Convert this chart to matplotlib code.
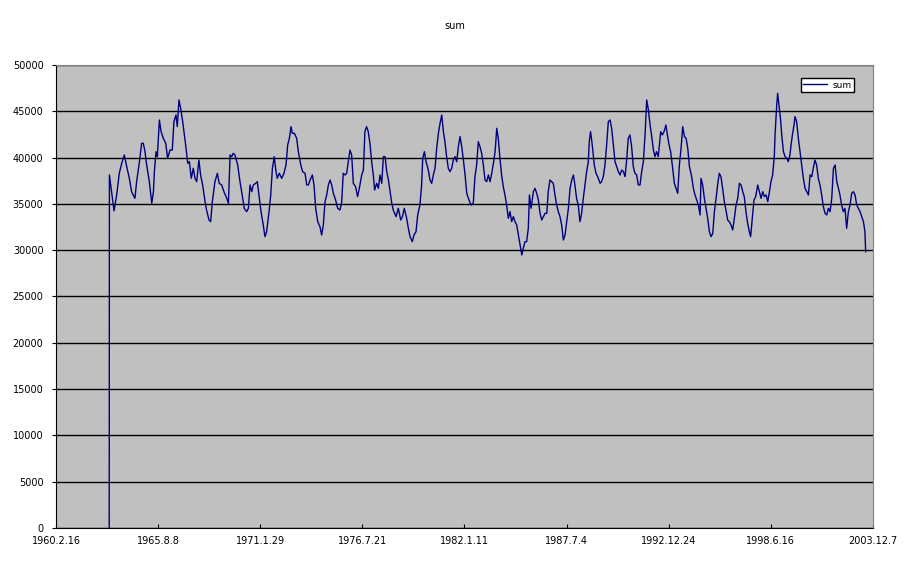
import pandas as pd
import matplotlib
matplotlib.use("Agg")
from matplotlib import pyplot as plt
from matplotlib.ticker import FixedLocator, MultipleLocator

# ---------------------------------------------------------------------------
# DATA
# ---------------------------------------------------------------------------

# decimal years of the traced points
years = [
    1962.98, 1962.99, 1963.24, 1963.38, 1963.52, 1963.65, 1963.79, 1963.92,
    1964.06, 1964.18, 1964.36, 1964.45, 1964.59, 1964.72, 1964.81, 1964.90,
    1964.99, 1965.13, 1965.26, 1965.35, 1965.40, 1965.49, 1965.56, 1965.67,
    1965.76, 1965.88, 1966.01, 1966.11, 1966.24, 1966.36, 1966.45, 1966.56,
    1966.63, 1966.72, 1966.81, 1966.92, 1967.01, 1967.10, 1967.19, 1967.28,
    1967.38, 1967.49, 1967.58, 1967.67, 1967.79, 1967.88, 1967.99, 1968.12,
    1968.20, 1968.33, 1968.42, 1968.51, 1968.65, 1968.78, 1968.88, 1969.01,
    1969.13, 1969.28, 1969.37, 1969.46, 1969.55, 1969.63,
    1969.72, 1969.87, 1969.99, 1970.08, 1970.22, 1970.35, 1970.44, 1970.53,
    1970.62, 1970.71, 1970.83, 1970.92, 1971.01, 1971.12, 1971.24, 1971.33,
    1971.42, 1971.55, 1971.64, 1971.73, 1971.83, 1971.91, 1971.99, 1972.10,
    1972.23, 1972.35, 1972.46, 1972.55, 1972.64, 1972.73, 1972.80, 1972.91,
    1973.03, 1973.12, 1973.25, 1973.35, 1973.48, 1973.57, 1973.66, 1973.75,
    1973.87, 1973.96, 1974.05, 1974.16, 1974.28, 1974.37, 1974.46, 1974.55,
    1974.64, 1974.73, 1974.82, 1974.91, 1975.00, 1975.12, 1975.23, 1975.35,
    1975.44, 1975.53, 1975.62, 1975.71, 1975.80, 1975.89, 1975.98, 1976.07,
    1976.19, 1976.30, 1976.39, 1976.52, 1976.61, 1976.69, 1976.78, 1976.87,
    1976.96, 1977.05, 1977.14, 1977.21, 1977.32, 1977.41, 1977.50, 1977.59,
    1977.68, 1977.77, 1977.86, 1977.95, 1978.04, 1978.13, 1978.21, 1978.36,
    1978.48, 1978.61, 1978.70, 1978.80, 1978.93, 1979.02, 1979.11, 1979.23,
    1979.32, 1979.43, 1979.52, 1979.64, 1979.73, 1979.79, 1979.88, 1979.97,
    1980.09, 1980.18, 1980.27, 1980.36, 1980.45, 1980.54, 1980.63, 1980.72,
    1980.81, 1980.90, 1980.98, 1981.07, 1981.16, 1981.25, 1981.34, 1981.43,
    1981.52, 1981.61, 1981.70, 1981.79, 1981.88, 1981.97, 1982.06, 1982.15,
    1982.27, 1982.38, 1982.50, 1982.59, 1982.68, 1982.77, 1982.86, 1982.95,
    1983.04, 1983.13, 1983.22, 1983.31, 1983.40, 1983.49, 1983.58, 1983.67,
    1983.76, 1983.84, 1983.93, 1984.02, 1984.11,
    1984.20, 1984.29, 1984.38, 1984.47, 1984.56, 1984.65, 1984.74, 1984.83,
    1984.92, 1985.01, 1985.10, 1985.18, 1985.27, 1985.36, 1985.45, 1985.51,
    1985.60, 1985.72, 1985.81, 1985.90, 1985.99, 1986.08, 1986.17, 1986.26,
    1986.35, 1986.44, 1986.52, 1986.61, 1986.70, 1986.79, 1986.88, 1986.97,
    1987.06, 1987.15, 1987.24, 1987.33, 1987.42, 1987.51, 1987.60, 1987.69,
    1987.78, 1987.87, 1987.95, 1988.04, 1988.13, 1988.22, 1988.31, 1988.40,
    1988.49, 1988.58, 1988.67, 1988.72, 1988.79, 1988.88, 1988.99, 1989.08,
    1989.17, 1989.30, 1989.38, 1989.47, 1989.56, 1989.65, 1989.74, 1989.83,
    1989.92, 1990.01, 1990.10, 1990.19, 1990.28, 1990.37, 1990.46, 1990.55,
    1990.64, 1990.73, 1990.81, 1990.90, 1990.99, 1991.08, 1991.17, 1991.26,
    1991.35,
    1991.44, 1991.53, 1991.62, 1991.71, 1991.80, 1991.89, 1991.98, 1992.07,
    1992.16, 1992.24, 1992.33, 1992.42, 1992.48, 1992.55, 1992.64, 1992.73,
    1992.83, 1992.91, 1993.00, 1993.08, 1993.17, 1993.28, 1993.37, 1993.46,
    1993.55, 1993.64, 1993.73, 1993.82, 1993.91, 1994.00, 1994.09, 1994.21,
    1994.30, 1994.39, 1994.48, 1994.57, 1994.66, 1994.71, 1994.80, 1994.89,
    1994.98, 1995.07, 1995.16, 1995.25, 1995.34, 1995.43, 1995.52, 1995.60,
    1995.69, 1995.78, 1995.87, 1995.96, 1996.05, 1996.14, 1996.23, 1996.32,
    1996.41, 1996.50, 1996.59, 1996.68, 1996.77, 1996.86, 1996.95, 1997.03,
    1997.12, 1997.21, 1997.30, 1997.37, 1997.46, 1997.55, 1997.64, 1997.75,
    1997.84, 1997.93, 1998.02, 1998.11, 1998.20, 1998.29, 1998.38, 1998.46,
    1998.55, 1998.64,
    1998.68, 1998.77, 1998.82, 1998.89, 1998.97, 1999.04, 1999.13, 1999.22,
    1999.31, 1999.39, 1999.48, 1999.54, 1999.61, 1999.70, 1999.75, 1999.84,
    1999.93, 2000.02, 2000.11, 2000.20, 2000.29, 2000.38, 2000.47, 2000.56,
    2000.65, 2000.73, 2000.82, 2000.91, 2001.00, 2001.09, 2001.18, 2001.27,
    2001.36, 2001.45, 2001.54, 2001.63, 2001.72, 2001.81, 2001.90, 2001.99,
    2002.08, 2002.16, 2002.25, 2002.34, 2002.43, 2002.52, 2002.61, 2002.70,
    2002.79, 2002.88, 2002.97, 2003.06, 2003.15, 2003.24, 2003.33, 2003.42,
    2003.50, 2003.54,
]

sums = [
    0, 38120, 34240, 35960, 38300, 39380, 40280, 39020,
    37760, 36320, 35600, 37400, 39380, 41540, 41540, 40640,
    39200, 37400, 35060, 36320, 38480, 40640, 40100, 44060,
    42800, 42080, 41540, 39920, 40820, 40820, 43880, 44600,
    43340, 46220, 45320, 43880, 42440, 41000, 39380, 39560,
    37760, 38840, 37760, 37400, 39740, 38120, 37040, 35240,
    34340, 33260, 33080, 35240, 37400, 38300, 37220, 37040,
    36320, 35600, 35060, 40280, 40100, 40460,
    40280, 39200, 37400, 36320, 34520, 34160, 34520, 37040,
    36320, 37040, 37220, 37400, 35960, 34160, 32720, 31460,
    32000, 34160, 35960, 38840, 40100, 38660, 37760, 38300,
    37760, 38300, 39200, 41360, 42080, 43340, 42620, 42620,
    42080, 40640, 39200, 38480, 38300, 37040, 37040, 37580,
    38120, 37040, 34520, 33080, 32540, 31640, 32720, 35240,
    35960, 37040, 37580, 37040, 36140, 35420, 34520, 34340,
    35060, 38300, 38120, 38300, 39560, 40820, 40280, 37220,
    36860, 35780, 36680, 38120, 38660, 42800, 43340, 42800,
    41540, 39560, 38120, 36500, 37220, 36680, 38120, 37220,
    40100, 40100, 38480, 37580, 36320, 35060, 34340, 33620,
    34520, 33260, 33620, 34520, 33440, 32360, 31460, 30920,
    31640, 32000, 33800, 34880, 37040, 39920, 40640, 39560,
    38660, 37580, 37220, 38120, 38840, 41000, 42620, 43700,
    44600, 42800, 41720, 40100, 38840, 38480, 38840, 39740,
    40100, 39560, 41180, 42260, 41180, 39740, 38120, 36140,
    35420, 34880, 35060, 37940, 39200, 41720, 41180, 40460,
    39200, 37580, 37400, 38120, 37400, 38300, 39380, 40640,
    43160, 42080, 39920, 38120, 36860,
    35960, 34880, 33440, 34160, 33080, 33620, 33080, 32720,
    31640, 30560, 29480, 30200, 30920, 30920, 32360, 35960,
    34520, 36320, 36680, 36140, 35420, 33980, 33260, 33620,
    33980, 33980, 36320, 37580, 37400, 37220, 35960, 34880,
    34160, 33620, 32720, 31100, 31640, 33080, 34520, 36680,
    37580, 38120, 37040, 35600, 34880, 33080, 33980, 35600,
    37040, 38480, 39560, 41720, 42800, 41360, 39200, 38300,
    37940, 37220, 37400, 37940, 39200, 41360, 43880, 44060,
    43160, 41360, 39560, 39020, 38480, 38120, 38660, 38480,
    37940, 39920, 42080, 42440, 41180, 39020, 38300, 38120,
    37040,
    37040, 38480, 39560, 42440, 46220, 45140, 43520, 42260,
    40820, 40100, 40640, 40100, 41360, 42800, 42440, 42800,
    43520, 42440, 41360, 40640, 39200, 37220, 36680, 36140,
    39200, 41000, 43340, 42260, 42080, 41000, 39020, 37940,
    36680, 35960, 35420, 34880, 33800, 37760, 37040, 35600,
    34520, 33440, 32000, 31460, 31820, 34160, 35600, 37040,
    38300, 37940, 36680, 35240, 34340, 33260, 33080, 32720,
    32180, 33440, 34880, 35600, 37220, 37040, 36320, 35780,
    34160, 32900, 32000, 31460, 33440, 35420, 35780, 37040,
    36320, 35600, 36320, 35780, 35960, 35240, 36320, 37400,
    38120, 40100,
    42440, 45680, 46940, 45680, 44240, 42440, 40640, 40100,
    39920, 39560, 40280, 41360, 42440, 43520, 44420, 43880,
    42080, 40640, 39200, 37760, 36680, 36320, 35960, 38120,
    37940, 38840, 39740, 39200, 37760, 37040, 35960, 34700,
    33980, 33800, 34520, 34160, 35600, 38840, 39200, 37400,
    36680, 35960, 34880, 34160, 34520, 32360, 34160, 34880,
    36140, 36320, 35960, 34880, 34520, 34160, 33620, 33080,
    32000, 29840,
]

tick_labels = [
    "1960.2.16", "1965.8.8", "1971.1.29", "1976.7.21", "1982.1.11",
    "1987.7.4", "1992.12.24", "1998.6.16", "2003.12.7",
]

# ---------------------------------------------------------------------------
# CONVERSIONS
# ---------------------------------------------------------------------------

def year_to_date(y):
    start = pd.Timestamp(int(y), 1, 1)
    return start + pd.Timedelta(days=(y - int(y)) * 365.25)

dates = [year_to_date(y) for y in years]
tick_dates = pd.to_datetime(tick_labels, format="%Y.%m.%d")

# ---------------------------------------------------------------------------
# CHART
# ---------------------------------------------------------------------------

plt.rcParams["font.family"] = "DejaVu Sans"

fig = plt.figure(figsize=(9.1, 5.65), dpi=100)
ax = fig.add_axes([0.0615, 0.0655, 0.8978, 0.8195])
ax.set_facecolor("#c0c0c0")

ax.plot(dates, sums, color="#000080", linewidth=1.0, label="sum")

ax.set_ylim(0, 50000)
ax.yaxis.set_major_locator(MultipleLocator(5000))
ax.grid(axis="y", color="black", linewidth=1)
ax.set_axisbelow(True)

ax.set_xlim(tick_dates[0], tick_dates[-1])
ax.xaxis.set_major_locator(FixedLocator(matplotlib.dates.date2num(tick_dates)))
ax.set_xticklabels(tick_labels)

ax.tick_params(axis="x", direction="in", length=3, labelsize=7, pad=6)
ax.tick_params(axis="y", direction="out", length=3, labelsize=7, pad=6)

for side in ["left", "bottom"]:
    ax.spines[side].set_color("black")
for side in ["top", "right"]:
    ax.spines[side].set_color("#808080")

fig.text(0.5, 0.954, "sum", ha="center", va="center", fontsize=7)

leg = ax.legend(loc="upper right", bbox_to_anchor=(0.977, 0.972),
                borderaxespad=0, fancybox=False, framealpha=1,
                edgecolor="black", fontsize=6.5, handlelength=2.6,
                borderpad=0.3, handletextpad=0.6)
leg.get_frame().set_linewidth(1)

fig.savefig("out.png", dpi=100)
